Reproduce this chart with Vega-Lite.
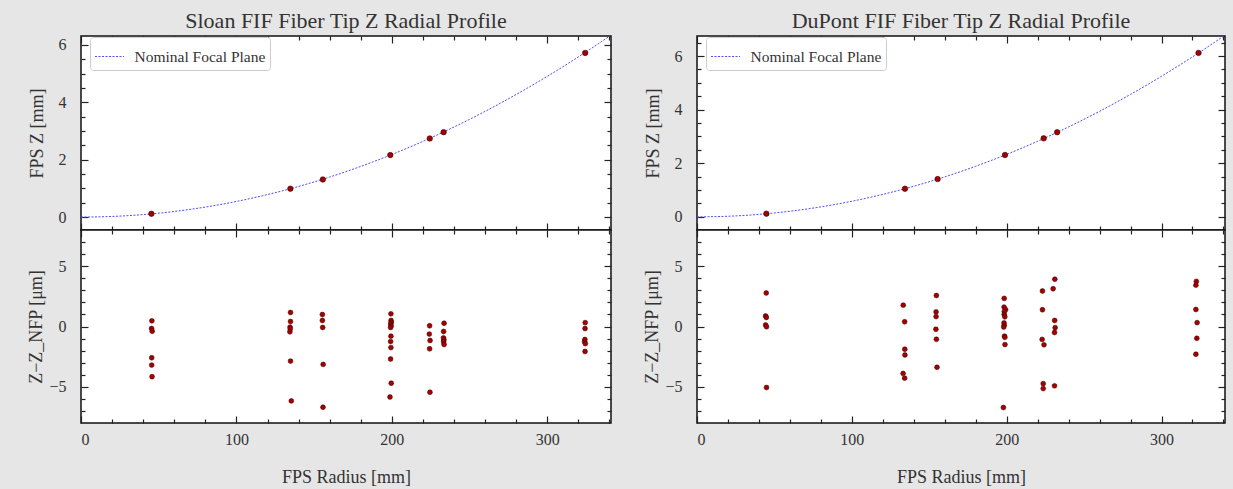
{
  "$schema": "https://vega.github.io/schema/vega-lite/v6.json",
  "background": "#e6e6e6",
  "padding": {"left": 27, "top": 9, "right": 7, "bottom": 4},
  "config": {
    "view": {"stroke": "#111111", "strokeWidth": 1.5, "fill": "white"},
    "axis": {"domain": false, "grid": false, "tickColor": "#222222", "tickWidth": 1.2, "labelColor": "#333333", "titleColor": "#333333", "labelFont": "Liberation Serif", "titleFont": "Liberation Serif", "labelFontSize": 16, "titleFontSize": 18, "titleFontWeight": "normal"},
    "title": {"font": "Liberation Serif", "fontSize": 22, "fontWeight": "normal", "color": "#333333", "offset": 2},
    "legend": {"orient": "none", "legendX": 9, "legendY": 1, "symbolType": "stroke", "symbolSize": 841, "symbolStrokeWidth": 1, "symbolDash": [2, 1.5], "labelFont": "Liberation Serif", "labelFontSize": 15.5, "labelColor": "#333333", "fillColor": "white", "strokeColor": "#cccccc", "padding": 4.5, "cornerRadius": 3, "labelOffset": 10}
  },
  "datasets": {
    "sloan_curve": [
      {"r": 0, "z": 0}, {"r": 20, "z": 0.022}, {"r": 40, "z": 0.087}, {"r": 60, "z": 0.196}, {"r": 80, "z": 0.349},
      {"r": 100, "z": 0.545}, {"r": 120, "z": 0.785}, {"r": 140, "z": 1.068}, {"r": 160, "z": 1.395}, {"r": 180, "z": 1.766},
      {"r": 200, "z": 2.18}, {"r": 220, "z": 2.638}, {"r": 240, "z": 3.139}, {"r": 260, "z": 3.684}, {"r": 280, "z": 4.273},
      {"r": 300, "z": 4.905}, {"r": 320, "z": 5.581}, {"r": 341, "z": 6.337}
    ],
    "dupont_curve": [
      {"r": 0, "z": 0}, {"r": 20, "z": 0.023}, {"r": 40, "z": 0.093}, {"r": 60, "z": 0.21}, {"r": 80, "z": 0.373},
      {"r": 100, "z": 0.583}, {"r": 120, "z": 0.84}, {"r": 140, "z": 1.143}, {"r": 160, "z": 1.492}, {"r": 180, "z": 1.889},
      {"r": 200, "z": 2.332}, {"r": 220, "z": 2.822}, {"r": 240, "z": 3.358}, {"r": 260, "z": 3.941}, {"r": 280, "z": 4.571},
      {"r": 300, "z": 5.247}, {"r": 320, "z": 5.97}, {"r": 341, "z": 6.779}
    ],
    "sloan_pts": [
      {"r": 45.3, "z": 0.115}, {"r": 134.7, "z": 0.99}, {"r": 155.6, "z": 1.31}, {"r": 199, "z": 2.16},
      {"r": 224.4, "z": 2.74}, {"r": 233.3, "z": 2.96}, {"r": 324.4, "z": 5.72}
    ],
    "dupont_pts": [
      {"r": 44.8, "z": 0.12}, {"r": 134.3, "z": 1.05}, {"r": 155.4, "z": 1.41}, {"r": 198.9, "z": 2.31},
      {"r": 223.9, "z": 2.93}, {"r": 232.6, "z": 3.16}, {"r": 323.9, "z": 6.12}
    ],
    "sloan_res": [
      {"r": 45.6, "dz": 0.47}, {"r": 45.4, "dz": -0.17}, {"r": 45.8, "dz": -0.39}, {"r": 45.5, "dz": -2.59}, {"r": 45.5, "dz": -3.2}, {"r": 45.7, "dz": -4.16},
      {"r": 134.8, "dz": 1.16}, {"r": 134.8, "dz": 0.41}, {"r": 134.5, "dz": -0.05}, {"r": 134.6, "dz": -0.2}, {"r": 134.4, "dz": -0.44}, {"r": 134.8, "dz": -2.87}, {"r": 135.3, "dz": -6.17},
      {"r": 155.3, "dz": 0.99}, {"r": 155.3, "dz": 0.5}, {"r": 155.5, "dz": -0.08}, {"r": 155.8, "dz": -3.14}, {"r": 155.7, "dz": -6.69},
      {"r": 199.4, "dz": 1.05}, {"r": 199.5, "dz": 0.5}, {"r": 199.6, "dz": 0.35}, {"r": 199.3, "dz": 0.2}, {"r": 199.5, "dz": 0.05}, {"r": 199.2, "dz": -0.08},
      {"r": 199.4, "dz": -0.8}, {"r": 199.2, "dz": -1.25}, {"r": 199.4, "dz": -1.75}, {"r": 199.2, "dz": -2.7}, {"r": 199.6, "dz": -4.7}, {"r": 198.8, "dz": -5.85},
      {"r": 224.3, "dz": 0.06}, {"r": 224.1, "dz": -0.63}, {"r": 224.6, "dz": -1.16}, {"r": 224.3, "dz": -1.85}, {"r": 224.5, "dz": -5.45},
      {"r": 233.6, "dz": 0.27}, {"r": 233.3, "dz": -0.41}, {"r": 233.2, "dz": -0.94}, {"r": 233.5, "dz": -1.1}, {"r": 233.3, "dz": -1.27}, {"r": 233.6, "dz": -1.49},
      {"r": 324.4, "dz": 0.32}, {"r": 324.3, "dz": -0.17}, {"r": 324.2, "dz": -1.08}, {"r": 324.0, "dz": -1.27}, {"r": 324.5, "dz": -1.42}, {"r": 324.3, "dz": -2.07}
    ],
    "dupont_res": [
      {"r": 44.7, "dz": 2.78}, {"r": 44.3, "dz": 0.87}, {"r": 44.8, "dz": 0.75}, {"r": 44.3, "dz": 0.12}, {"r": 44.9, "dz": -0.02}, {"r": 44.9, "dz": -5.06},
      {"r": 133.2, "dz": 1.77}, {"r": 134.1, "dz": 0.39}, {"r": 134.2, "dz": -1.88}, {"r": 134.3, "dz": -2.36}, {"r": 133.1, "dz": -3.89}, {"r": 134.1, "dz": -4.28},
      {"r": 154.6, "dz": 2.57}, {"r": 154.4, "dz": 1.21}, {"r": 154.4, "dz": 0.82}, {"r": 154.3, "dz": -0.23}, {"r": 154.6, "dz": -1.06}, {"r": 155.0, "dz": -3.38},
      {"r": 198.4, "dz": 2.33}, {"r": 198.3, "dz": 1.61}, {"r": 199.3, "dz": 1.4}, {"r": 198.5, "dz": 1.25}, {"r": 198.4, "dz": 1.0}, {"r": 198.8, "dz": 0.8},
      {"r": 198.3, "dz": 0.3}, {"r": 198.4, "dz": 0.1}, {"r": 198.1, "dz": -0.05}, {"r": 198.6, "dz": -0.8}, {"r": 198.8, "dz": -0.9}, {"r": 198.9, "dz": -1.5}, {"r": 197.9, "dz": -6.72},
      {"r": 223.1, "dz": 2.94}, {"r": 223.1, "dz": 1.39}, {"r": 222.9, "dz": -1.07}, {"r": 224.1, "dz": -1.52}, {"r": 223.6, "dz": -4.74}, {"r": 223.6, "dz": -5.15},
      {"r": 231.1, "dz": 3.92}, {"r": 230.0, "dz": 3.13}, {"r": 231.0, "dz": 0.5}, {"r": 231.3, "dz": -0.1}, {"r": 230.9, "dz": -0.5}, {"r": 230.9, "dz": -4.92},
      {"r": 322.5, "dz": 3.74}, {"r": 322.2, "dz": 3.43}, {"r": 322.2, "dz": 1.41}, {"r": 323.0, "dz": 0.32}, {"r": 322.8, "dz": -0.98}, {"r": 322.2, "dz": -2.3}
    ]
  },
  "spacing": 30,
  "resolve": {"scale": {"color": "independent"}},
  "hconcat": [
    {
      "spacing": 0,
      "bounds": "flush",
      "resolve": {"scale": {"color": "independent"}},
      "vconcat": [
        {
          "width": 530, "height": 194,
          "title": {"text": "Sloan FIF Fiber Tip Z Radial Profile"},
          "resolve": {"axis": {"x": "independent", "y": "independent"}},
          "layer": [
            {
              "data": {"name": "sloan_curve"},
              "mark": {"type": "line", "strokeWidth": 1, "strokeDash": [2, 1.5], "clip": true, "interpolate": "monotone"},
              "encoding": {
                "x": {"field": "r", "type": "quantitative", "scale": {"domain": [0, 341], "nice": false, "zero": false}, "axis": {"orient": "bottom", "values": [0, 100, 200, 300], "labels": false, "tickSize": -7, "title": null}},
                "y": {"field": "z", "type": "quantitative", "scale": {"domain": [-0.45, 6.31], "nice": false, "zero": false}, "axis": {"orient": "left", "values": [0, 2, 4, 6], "tickSize": -7, "labelPadding": 22, "title": "FPS Z [mm]", "titlePadding": 12}},
                "color": {"datum": "Nominal Focal Plane", "type": "nominal", "scale": {"range": ["#4d4dff"]}, "legend": {"title": null}}
              }
            },
            {
              "data": {"name": "sloan_pts"},
              "mark": {"type": "circle", "size": 30, "fill": "#a30000", "stroke": "#3a0000", "strokeWidth": 0.6, "opacity": 1},
              "encoding": {
                "x": {"field": "r", "type": "quantitative", "scale": {"domain": [0, 341], "nice": false, "zero": false}, "axis": {"orient": "bottom", "values": [20, 40, 60, 80, 120, 140, 160, 180, 220, 240, 260, 280, 320, 340], "labels": false, "tickSize": -4, "title": null}},
                "y": {"field": "z", "type": "quantitative", "scale": {"domain": [-0.45, 6.31], "nice": false, "zero": false}, "axis": {"orient": "left", "values": [0.5, 1, 1.5, 2.5, 3, 3.5, 4.5, 5, 5.5], "labels": false, "tickSize": -4, "title": null}}
              }
            },
            {
              "data": {"name": "sloan_pts"},
              "mark": {"type": "point", "opacity": 0},
              "encoding": {
                "x": {"field": "r", "type": "quantitative", "scale": {"domain": [0, 341], "nice": false, "zero": false}, "axis": {"orient": "top", "values": [0, 100, 200, 300], "labels": false, "tickSize": -7, "title": null}},
                "y": {"field": "z", "type": "quantitative", "scale": {"domain": [-0.45, 6.31], "nice": false, "zero": false}, "axis": {"orient": "right", "values": [0, 2, 4, 6], "labels": false, "tickSize": -7, "title": null}}
              }
            },
            {
              "data": {"name": "sloan_pts"},
              "mark": {"type": "point", "opacity": 0},
              "encoding": {
                "x": {"field": "r", "type": "quantitative", "scale": {"domain": [0, 341], "nice": false, "zero": false}, "axis": {"orient": "top", "values": [20, 40, 60, 80, 120, 140, 160, 180, 220, 240, 260, 280, 320, 340], "labels": false, "tickSize": -4, "title": null}},
                "y": {"field": "z", "type": "quantitative", "scale": {"domain": [-0.45, 6.31], "nice": false, "zero": false}, "axis": {"orient": "right", "values": [0.5, 1, 1.5, 2.5, 3, 3.5, 4.5, 5, 5.5], "labels": false, "tickSize": -4, "title": null}}
              }
            }
          ]
        },
        {
          "width": 530, "height": 193,
          "resolve": {"axis": {"x": "independent", "y": "independent"}},
          "layer": [
            {
              "mark": {"type": "rule", "color": "#4d4dff", "strokeWidth": 1, "strokeDash": [2, 1.5]},
              "encoding": {"y": {"datum": 0, "type": "quantitative", "scale": {"domain": [-8, 8], "nice": false, "zero": false}, "axis": null}}
            },
            {
              "data": {"name": "sloan_res"},
              "mark": {"type": "circle", "size": 24, "fill": "#a30000", "stroke": "#3a0000", "strokeWidth": 0.5, "opacity": 1},
              "encoding": {
                "x": {"field": "r", "type": "quantitative", "scale": {"domain": [0, 341], "nice": false, "zero": false}, "axis": {"orient": "bottom", "values": [0, 100, 200, 300], "tickSize": -7, "labelPadding": 15, "title": "FPS Radius [mm]", "titlePadding": 21}},
                "y": {"field": "dz", "type": "quantitative", "scale": {"domain": [-8, 8], "nice": false, "zero": false}, "axis": {"orient": "left", "values": [-5, 0, 5], "tickSize": -7, "labelPadding": 22, "title": "Z−Z_NFP [μm]", "titlePadding": 3}}
              }
            },
            {
              "data": {"name": "sloan_res"},
              "mark": {"type": "point", "opacity": 0},
              "encoding": {
                "x": {"field": "r", "type": "quantitative", "scale": {"domain": [0, 341], "nice": false, "zero": false}, "axis": {"orient": "bottom", "values": [20, 40, 60, 80, 120, 140, 160, 180, 220, 240, 260, 280, 320, 340], "labels": false, "tickSize": -4, "title": null}},
                "y": {"field": "dz", "type": "quantitative", "scale": {"domain": [-8, 8], "nice": false, "zero": false}, "axis": {"orient": "left", "values": [-7, -6, -4, -3, -2, -1, 1, 2, 3, 4, 6, 7], "labels": false, "tickSize": -4, "title": null}}
              }
            },
            {
              "data": {"name": "sloan_res"},
              "mark": {"type": "point", "opacity": 0},
              "encoding": {
                "x": {"field": "r", "type": "quantitative", "scale": {"domain": [0, 341], "nice": false, "zero": false}, "axis": {"orient": "top", "values": [0, 100, 200, 300], "labels": false, "tickSize": -7, "title": null}},
                "y": {"field": "dz", "type": "quantitative", "scale": {"domain": [-8, 8], "nice": false, "zero": false}, "axis": {"orient": "right", "values": [-5, 0, 5], "labels": false, "tickSize": -7, "title": null}}
              }
            },
            {
              "data": {"name": "sloan_res"},
              "mark": {"type": "point", "opacity": 0},
              "encoding": {
                "x": {"field": "r", "type": "quantitative", "scale": {"domain": [0, 341], "nice": false, "zero": false}, "axis": {"orient": "top", "values": [20, 40, 60, 80, 120, 140, 160, 180, 220, 240, 260, 280, 320, 340], "labels": false, "tickSize": -4, "title": null}},
                "y": {"field": "dz", "type": "quantitative", "scale": {"domain": [-8, 8], "nice": false, "zero": false}, "axis": {"orient": "right", "values": [-7, -6, -4, -3, -2, -1, 1, 2, 3, 4, 6, 7], "labels": false, "tickSize": -4, "title": null}}
              }
            }
          ]
        }
      ]
    },
    {
      "spacing": 0,
      "bounds": "flush",
      "resolve": {"scale": {"color": "independent"}},
      "vconcat": [
        {
          "width": 528, "height": 194,
          "title": {"text": "DuPont FIF Fiber Tip Z Radial Profile"},
          "resolve": {"axis": {"x": "independent", "y": "independent"}},
          "layer": [
            {
              "data": {"name": "dupont_curve"},
              "mark": {"type": "line", "strokeWidth": 1, "strokeDash": [2, 1.5], "clip": true, "interpolate": "monotone"},
              "encoding": {
                "x": {"field": "r", "type": "quantitative", "scale": {"domain": [0, 341], "nice": false, "zero": false}, "axis": {"orient": "bottom", "values": [0, 100, 200, 300], "labels": false, "tickSize": -7, "title": null}},
                "y": {"field": "z", "type": "quantitative", "scale": {"domain": [-0.49, 6.75], "nice": false, "zero": false}, "axis": {"orient": "left", "values": [0, 2, 4, 6], "tickSize": -7, "labelPadding": 22, "title": "FPS Z [mm]", "titlePadding": 12}},
                "color": {"datum": "Nominal Focal Plane", "type": "nominal", "scale": {"range": ["#4d4dff"]}, "legend": {"title": null}}
              }
            },
            {
              "data": {"name": "dupont_pts"},
              "mark": {"type": "circle", "size": 30, "fill": "#a30000", "stroke": "#3a0000", "strokeWidth": 0.6, "opacity": 1},
              "encoding": {
                "x": {"field": "r", "type": "quantitative", "scale": {"domain": [0, 341], "nice": false, "zero": false}, "axis": {"orient": "bottom", "values": [20, 40, 60, 80, 120, 140, 160, 180, 220, 240, 260, 280, 320, 340], "labels": false, "tickSize": -4, "title": null}},
                "y": {"field": "z", "type": "quantitative", "scale": {"domain": [-0.49, 6.75], "nice": false, "zero": false}, "axis": {"orient": "left", "values": [0.5, 1, 1.5, 2.5, 3, 3.5, 4.5, 5, 5.5, 6.5], "labels": false, "tickSize": -4, "title": null}}
              }
            },
            {
              "data": {"name": "dupont_pts"},
              "mark": {"type": "point", "opacity": 0},
              "encoding": {
                "x": {"field": "r", "type": "quantitative", "scale": {"domain": [0, 341], "nice": false, "zero": false}, "axis": {"orient": "top", "values": [0, 100, 200, 300], "labels": false, "tickSize": -7, "title": null}},
                "y": {"field": "z", "type": "quantitative", "scale": {"domain": [-0.49, 6.75], "nice": false, "zero": false}, "axis": {"orient": "right", "values": [0, 2, 4, 6], "labels": false, "tickSize": -7, "title": null}}
              }
            },
            {
              "data": {"name": "dupont_pts"},
              "mark": {"type": "point", "opacity": 0},
              "encoding": {
                "x": {"field": "r", "type": "quantitative", "scale": {"domain": [0, 341], "nice": false, "zero": false}, "axis": {"orient": "top", "values": [20, 40, 60, 80, 120, 140, 160, 180, 220, 240, 260, 280, 320, 340], "labels": false, "tickSize": -4, "title": null}},
                "y": {"field": "z", "type": "quantitative", "scale": {"domain": [-0.49, 6.75], "nice": false, "zero": false}, "axis": {"orient": "right", "values": [0.5, 1, 1.5, 2.5, 3, 3.5, 4.5, 5, 5.5, 6.5], "labels": false, "tickSize": -4, "title": null}}
              }
            }
          ]
        },
        {
          "width": 528, "height": 193,
          "resolve": {"axis": {"x": "independent", "y": "independent"}},
          "layer": [
            {
              "mark": {"type": "rule", "color": "#4d4dff", "strokeWidth": 1, "strokeDash": [2, 1.5]},
              "encoding": {"y": {"datum": 0, "type": "quantitative", "scale": {"domain": [-8, 8], "nice": false, "zero": false}, "axis": null}}
            },
            {
              "data": {"name": "dupont_res"},
              "mark": {"type": "circle", "size": 24, "fill": "#a30000", "stroke": "#3a0000", "strokeWidth": 0.5, "opacity": 1},
              "encoding": {
                "x": {"field": "r", "type": "quantitative", "scale": {"domain": [0, 341], "nice": false, "zero": false}, "axis": {"orient": "bottom", "values": [0, 100, 200, 300], "tickSize": -7, "labelPadding": 15, "title": "FPS Radius [mm]", "titlePadding": 21}},
                "y": {"field": "dz", "type": "quantitative", "scale": {"domain": [-8, 8], "nice": false, "zero": false}, "axis": {"orient": "left", "values": [-5, 0, 5], "tickSize": -7, "labelPadding": 22, "title": "Z−Z_NFP [μm]", "titlePadding": 3}}
              }
            },
            {
              "data": {"name": "dupont_res"},
              "mark": {"type": "point", "opacity": 0},
              "encoding": {
                "x": {"field": "r", "type": "quantitative", "scale": {"domain": [0, 341], "nice": false, "zero": false}, "axis": {"orient": "bottom", "values": [20, 40, 60, 80, 120, 140, 160, 180, 220, 240, 260, 280, 320, 340], "labels": false, "tickSize": -4, "title": null}},
                "y": {"field": "dz", "type": "quantitative", "scale": {"domain": [-8, 8], "nice": false, "zero": false}, "axis": {"orient": "left", "values": [-7, -6, -4, -3, -2, -1, 1, 2, 3, 4, 6, 7], "labels": false, "tickSize": -4, "title": null}}
              }
            },
            {
              "data": {"name": "dupont_res"},
              "mark": {"type": "point", "opacity": 0},
              "encoding": {
                "x": {"field": "r", "type": "quantitative", "scale": {"domain": [0, 341], "nice": false, "zero": false}, "axis": {"orient": "top", "values": [0, 100, 200, 300], "labels": false, "tickSize": -7, "title": null}},
                "y": {"field": "dz", "type": "quantitative", "scale": {"domain": [-8, 8], "nice": false, "zero": false}, "axis": {"orient": "right", "values": [-5, 0, 5], "labels": false, "tickSize": -7, "title": null}}
              }
            },
            {
              "data": {"name": "dupont_res"},
              "mark": {"type": "point", "opacity": 0},
              "encoding": {
                "x": {"field": "r", "type": "quantitative", "scale": {"domain": [0, 341], "nice": false, "zero": false}, "axis": {"orient": "top", "values": [20, 40, 60, 80, 120, 140, 160, 180, 220, 240, 260, 280, 320, 340], "labels": false, "tickSize": -4, "title": null}},
                "y": {"field": "dz", "type": "quantitative", "scale": {"domain": [-8, 8], "nice": false, "zero": false}, "axis": {"orient": "right", "values": [-7, -6, -4, -3, -2, -1, 1, 2, 3, 4, 6, 7], "labels": false, "tickSize": -4, "title": null}}
              }
            }
          ]
        }
      ]
    }
  ]
}
